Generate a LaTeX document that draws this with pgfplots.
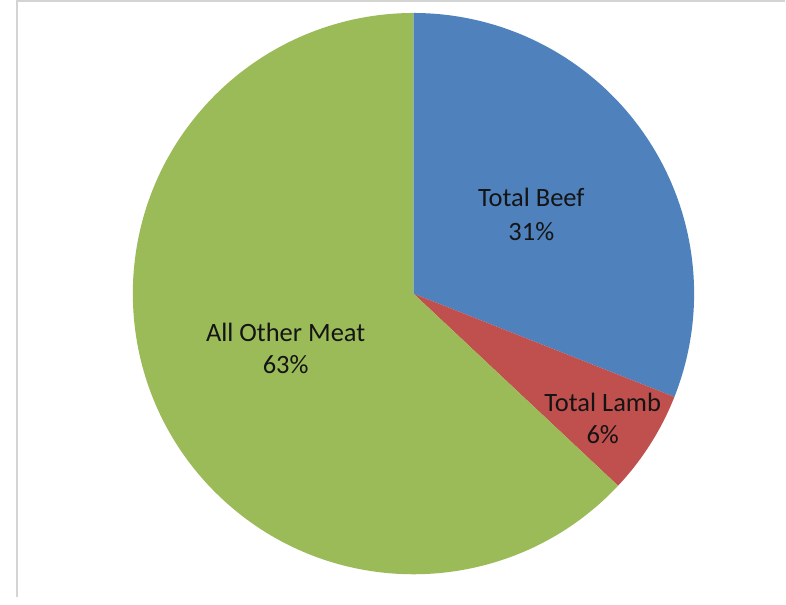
\documentclass[border=0pt]{standalone}
\usepackage{pgfplots}
\usepackage{pgfplotstable}
\pgfplotsset{compat=1.18}
\usepackage{fontspec}
\setmainfont{Carlito}
\definecolor{beef}{HTML}{4F81BD}
\definecolor{lamb}{HTML}{C0504D}
\definecolor{other}{HTML}{9BBB59}
\definecolor{frame}{HTML}{D4D4D4}
\pgfplotstableread{
label value
Beef 31
Lamb 6
Other 63
}\meatdata
\begin{document}
\begin{tikzpicture}
\pgfplotstablegetelem{0}{value}\of\meatdata \let\vBeef\pgfplotsretval
\pgfplotstablegetelem{1}{value}\of\meatdata \let\vLamb\pgfplotsretval
\pgfplotstablegetelem{2}{value}\of\meatdata \let\vOther\pgfplotsretval
\pgfmathsetmacro\aA{90}
\pgfmathsetmacro\aB{\aA-3.6*\vBeef}
\pgfmathsetmacro\aC{\aB-3.6*\vLamb}
\pgfmathsetmacro\aD{\aC-3.6*\vOther}
\begin{axis}[
  scale only axis, width=786pt, height=598pt,
  xmin=0, xmax=786, ymin=0, ymax=598,
  hide axis, clip=false,
]
\path (axis cs:0,0) rectangle (axis cs:786,598);
\fill[beef] (axis cs:414,304) -- ++(\aA:281) arc[start angle=\aA, end angle=\aB, radius=281pt] -- cycle;
\fill[lamb] (axis cs:414,304) -- ++(\aB:281) arc[start angle=\aB, end angle=\aC, radius=281pt] -- cycle;
\fill[other] (axis cs:414,304) -- ++(\aC:281) arc[start angle=\aC, end angle=\aD, radius=281pt] -- cycle;
\draw[frame, line width=2pt] (axis cs:17,0) -- (axis cs:17,596.5) -- (axis cs:786,596.5);
\begin{scope}[every node/.style={anchor=base, inner sep=0pt, text=black!92, font=\fontsize{26.5}{31}\selectfont}]
\node at (axis cs:532,391.3) {Total Beef};
\node at (axis cs:532,357) {\vBeef\%};
\node at (axis cs:603.5,186.3) {Total Lamb};
\node at (axis cs:603.5,154) {\vLamb\%};
\node at (axis cs:286,256.3) {All Other Meat};
\node at (axis cs:286,224) {\vOther\%};
\end{scope}
\end{axis}
\end{tikzpicture}
\end{document}
